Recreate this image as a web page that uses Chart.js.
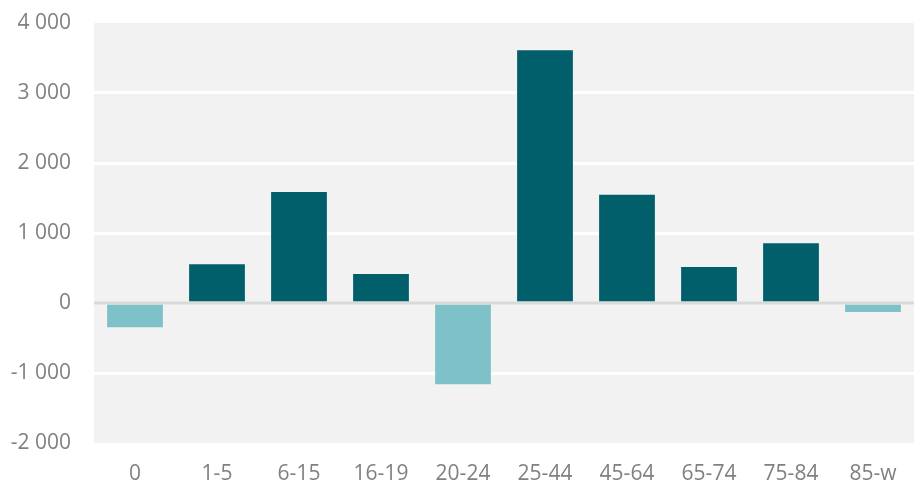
<!DOCTYPE html>
<html lang="en">
<head>
    <meta charset="UTF-8">
    <title>Change by age group</title>
    <script src="https://cdn.jsdelivr.net/npm/chart.js"></script>
    <style>
        html, body { margin: 0; padding: 0; background: #ffffff; }
        #wrap { width: 914px; height: 484px; }
    </style>
</head>
<body>
    <div id="wrap"><canvas id="ageChart"></canvas></div>
    <script>
        // data
        const ageGroups = ['0', '1-5', '6-15', '16-19', '20-24', '25-44', '45-64', '65-74', '75-84', '85-w'];
        const changes = [-345, 555, 1585, 415, -1160, 3610, 1545, 515, 855, -130];
        const yTicks = [-2000, -1000, 0, 1000, 2000, 3000, 4000];

        const darkTeal = '#005f6b';
        const lightTeal = '#7fc1c8';

        // grey plot area + zero line on top of bars
        const plotBg = {
            id: 'plotBg',
            beforeDraw(chart) {
                const a = chart.chartArea;
                const c = chart.ctx;
                c.save();
                c.fillStyle = '#f2f2f2';
                c.fillRect(a.left, a.top, a.right - a.left, a.bottom - a.top);
                c.restore();
            },
            afterDatasetsDraw(chart) {
                const a = chart.chartArea;
                const c = chart.ctx;
                const y0 = chart.scales.y.getPixelForValue(0);
                c.save();
                c.strokeStyle = '#d9d9d9';
                c.lineWidth = 3;
                c.beginPath();
                c.moveTo(a.left, y0);
                c.lineTo(a.right, y0);
                c.stroke();
                c.restore();
            }
        };

        const fmt = v => String(v).replace(/\B(?=(\d{3})+(?!\d))/g, ' ');
        const tickFont = { family: 'Open Sans', size: 21 };

        new Chart(document.getElementById('ageChart'), {
            type: 'bar',
            data: {
                labels: ageGroups,
                datasets: [{
                    data: changes,
                    backgroundColor: changes.map(v => v < 0 ? lightTeal : darkTeal),
                    barPercentage: 0.68,
                    categoryPercentage: 1
                }]
            },
            options: {
                responsive: true,
                maintainAspectRatio: false,
                animation: false,
                layout: { padding: { top: 23, right: 0, left: 0, bottom: 0 } },
                plugins: { legend: { display: false }, tooltip: { enabled: false } },
                scales: {
                    x: {
                        grid: { display: false },
                        border: { display: false },
                        ticks: {
                            color: '#808080',
                            font: tickFont,
                            padding: 10
                        },
                        afterFit(scale) { scale.height = 41; scale.paddingLeft = 0; scale.paddingRight = 0; }
                    },
                    y: {
                        min: -2000,
                        max: 4000,
                        afterBuildTicks(scale) { scale.ticks = yTicks.map(v => ({ value: v })); },
                        grid: {
                            drawTicks: false,
                            lineWidth: 3,
                            color: ctx => {
                                const v = ctx.tick ? ctx.tick.value : null;
                                if (v === 4000 || v === -2000 || v === 0) return 'rgba(0,0,0,0)';
                                return '#ffffff';
                            }
                        },
                        border: { display: false },
                        ticks: {
                            color: '#808080',
                            font: tickFont,
                            padding: 23,
                            callback: v => fmt(v)
                        },
                        afterFit(scale) { scale.width = 94; scale.paddingTop = 0; scale.paddingBottom = 0; }
                    }
                }
            },
            plugins: [plotBg]
        });
    </script>
</body>
</html>
